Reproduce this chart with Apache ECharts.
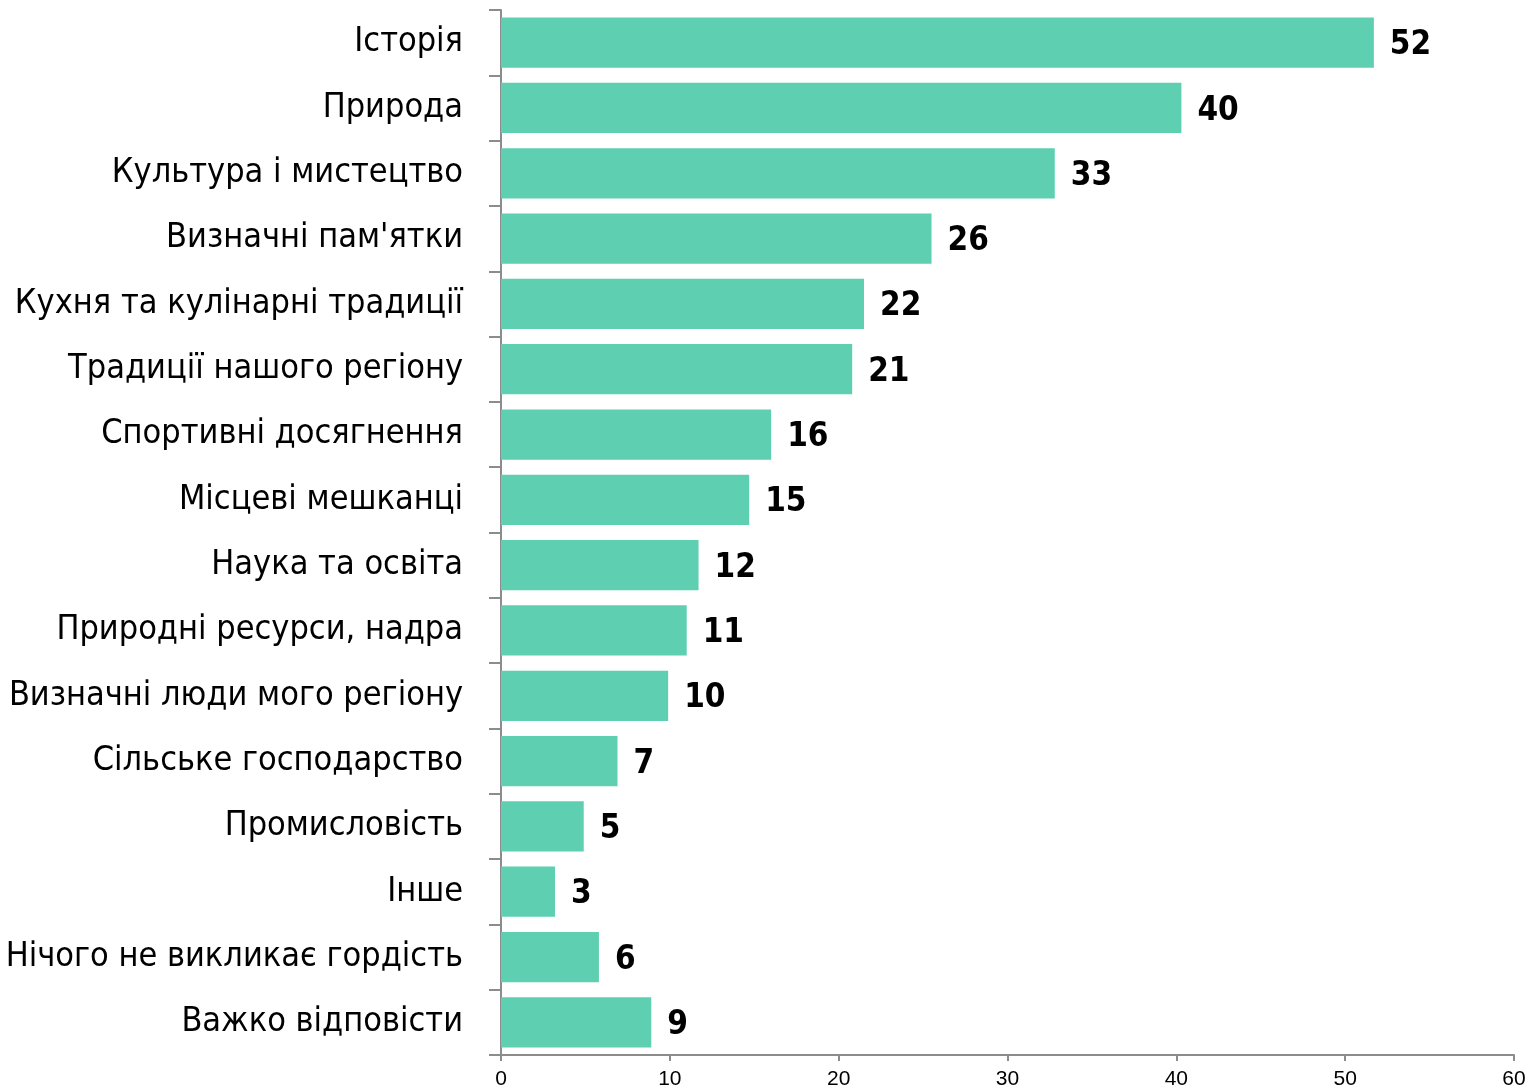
<!DOCTYPE html>
<html><head><meta charset="utf-8">
<script src="https://cdn.jsdelivr.net/npm/echarts@6/dist/echarts.min.js"></script>
<style>html,body{margin:0;padding:0;background:#fff}#c{width:1532px;height:1090px}</style>
</head><body><div id="c"></div>
<script>
const categories = ["Історія","Природа","Культура і мистецтво","Визначні пам'ятки","Кухня та кулінарні традиції","Традиції нашого регіону","Спортивні досягнення","Місцеві мешканці","Наука та освіта","Природні ресурси, надра","Визначні люди мого регіону","Сільське господарство","Промисловість","Інше","Нічого не викликає гордість","Важко відповісти"];
const values = [51.7,40.3,32.8,25.5,21.5,20.8,16.0,14.7,11.7,11.0,9.9,6.9,4.9,3.2,5.8,8.9];
const xTicks = [0,10,20,30,40,50,60];

const narrow = "'Liberation Sans Narrow','Arial Narrow','DejaVu Sans Condensed',sans-serif";
const chart = echarts.init(document.getElementById('c'), null, {renderer:'canvas'});
chart.setOption({
  animation:false,
  grid:{left:501,right:18,top:10,bottom:35,containLabel:false,outerBoundsMode:'none'},
  xAxis:{type:'value',min:xTicks[0],max:xTicks[xTicks.length-1],interval:10,
    axisLine:{show:true,lineStyle:{color:'#8c8c8c',width:2}},
    axisTick:{show:true,length:6,lineStyle:{color:'#8c8c8c',width:2}},
    splitLine:{show:false},
    axisLabel:{color:'#000',fontSize:21,fontFamily:"'Liberation Sans',Arial,sans-serif",margin:14}},
  yAxis:{type:'category',data:categories,inverse:true,
    axisLine:{show:true,lineStyle:{color:'#8c8c8c',width:2}},
    axisTick:{show:true,length:12,alignWithLabel:false,lineStyle:{color:'#8c8c8c',width:2}},
    axisLabel:{color:'#000',fontSize:34,fontFamily:narrow,margin:38,padding:[6,0,0,0]}},
  series:[{type:'bar',data:values,barCategoryGap:'23%',
    itemStyle:{color:'#5ecfb1'},
    label:{show:true,position:'right',distance:16,offset:[0,3],color:'#000',fontSize:33,fontWeight:'bold',fontFamily:narrow,
      formatter:p=>Math.round(p.value)}}]
});
</script></body></html>
